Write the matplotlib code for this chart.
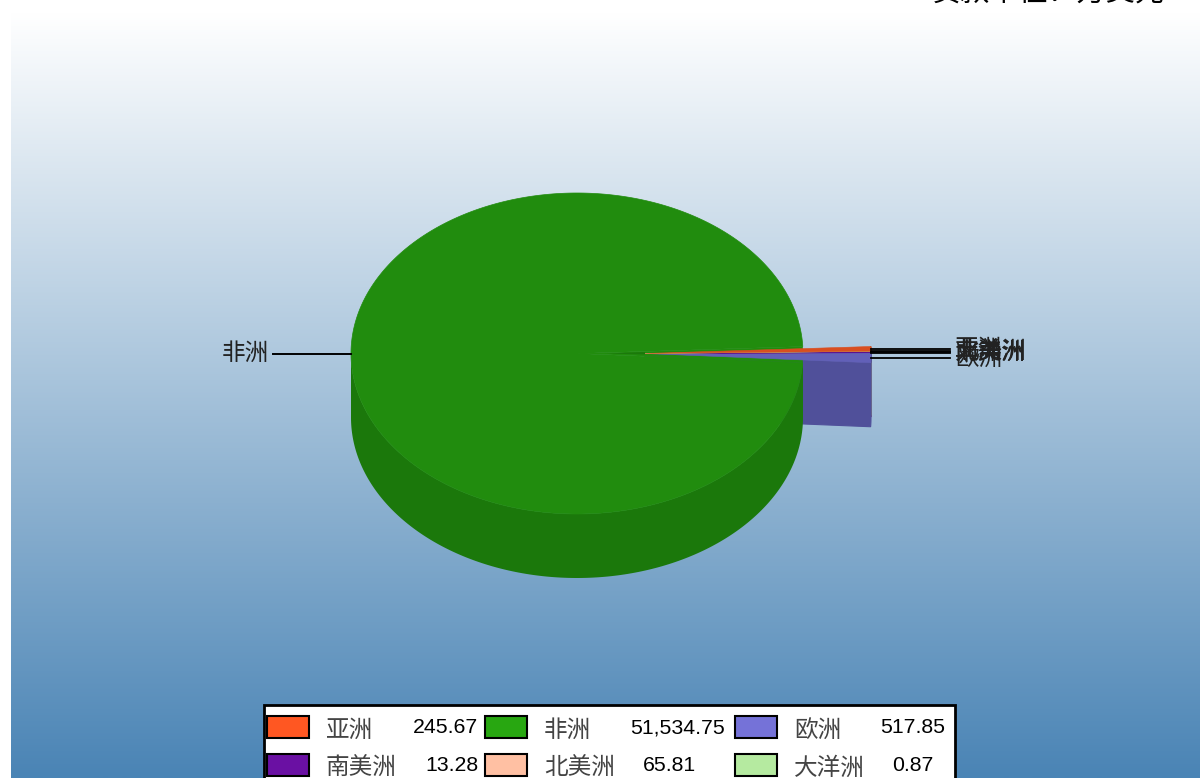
import numpy as np
import matplotlib
matplotlib.use("Agg")
import matplotlib.pyplot as plt
from matplotlib.colors import LinearSegmentedColormap
from matplotlib.patches import Polygon, Rectangle

continents = ["亚洲", "非洲", "欧洲", "南美洲", "北美洲", "大洋洲"]
amounts = [245.67, 51534.75, 517.85, 13.28, 65.81, 0.87]
amount_labels = ["245.67", "51,534.75", "517.85", "13.28", "65.81", "0.87"]
top_colors = ["#D94E20", "#218C0E", "#6260B8", "#5C1090", "#D8A080", "#A0D090"]
side_colors = ["#C04A1E", "#1B780B", "#50509A", "#4C0C78", "#C08C70", "#8CB87C"]
legend_colors = ["#FF5722", "#28A711", "#7572D8", "#6A10A3", "#FFC0A3", "#B5EAA0"]
unit_title = "贷款单位：万美元"

CJK = ["Noto Sans CJK SC", "DejaVu Sans"]
plt.rcParams["font.family"] = CJK

fig = plt.figure(figsize=(12, 7.78), dpi=100, facecolor="white")
ax = fig.add_axes([0, 0, 1, 1])
ax.axis("off")

cmap = LinearSegmentedColormap.from_list("bg", ["#FFFFFF", "#4A84B5"])
ax.imshow(np.linspace(0, 1, 256).reshape(-1, 1), cmap=cmap, aspect="auto",
          extent=(11, 1200, 778, 12), zorder=0)
ax.set_xlim(0, 1200)
ax.set_ylim(778, 0)

cx, cy, rx, ry, depth, explode = 577, 353.5, 226, 160.5, 64, 68

spans = np.array(amounts) / sum(amounts) * 360
idx_big = int(np.argmax(amounts))
# Largest slice is centred on the left; going counter-clockwise, slices follow the data order.
starts = {}
a = 180 - spans[idx_big] / 2 - 0.4
for k in range(len(amounts)):
    i = (idx_big + k) % len(amounts)
    starts[i] = a
    a += spans[i]


def arc(a0, a1, ox=0, oy=0, n=200):
    t = np.radians(np.linspace(a0, a1, n))
    return np.column_stack([cx + ox + rx * np.cos(t), cy + oy - ry * np.sin(t)])


# sides of exploded slices (behind the big slice)
for i in [0, 4, 3, 5, 2]:
    a0, a1 = starts[i], starts[i] + spans[i]
    rim = arc(a0, a1, ox=explode)
    apex = [cx + explode, cy]
    pts = np.vstack([[apex], rim, rim[::-1] + [0, depth], [[apex[0], apex[1] + depth]]])
    ax.add_patch(Polygon(pts, closed=True, fc=side_colors[i], ec=side_colors[i], lw=0.8, zorder=2))

# big slice: wall and top
a0, a1 = starts[idx_big], starts[idx_big] + spans[idx_big]
front = arc(180, 360)
wall = np.vstack([front, front[::-1] + [0, depth]])
ax.add_patch(Polygon(wall, closed=True, fc=side_colors[idx_big], ec="none", zorder=3))
top = np.vstack([[[cx, cy]], arc(a0, a1, n=600)])
ax.add_patch(Polygon(top, closed=True, fc=top_colors[idx_big], ec=top_colors[idx_big], lw=0.5, zorder=4))
ax.add_patch(Polygon(np.vstack([[[cx, cy]], arc(a1, a0 + 360, n=30)]), closed=True,
                     fc=top_colors[idx_big], ec="none", zorder=4))

# dark streak near the centre
ax.add_patch(Polygon([[605, cy], [645, cy - 1.5], [645, cy + 1]], closed=True,
                     fc=side_colors[idx_big], ec="none", zorder=5))

# tops of exploded slices
for i in [2, 4, 3, 5, 0]:
    a0, a1 = starts[i], starts[i] + spans[i]
    pts = np.vstack([[[cx + explode, cy]], arc(a0, a1, ox=explode)])
    ax.add_patch(Polygon(pts, closed=True, fc=top_colors[i], ec=top_colors[i], lw=0.4, zorder=6))

# leader lines + labels
label_kw = dict(fontsize=17, color="#222222", va="center", family=CJK, zorder=8)
for i in range(len(amounts)):
    mid = starts[i] + spans[i] / 2
    if i == idx_big:
        ax.plot([cx - rx, 273], [cy, cy], color="black", lw=1.4, zorder=7)
        ax.text(269, cy - 0.5, continents[i], ha="right", **label_kw)
    else:
        p = arc(mid, mid, ox=explode, n=2)[0]
        ax.plot([p[0], 950], [p[1], p[1]], color="black", lw=1.3, zorder=7)
        ax.text(955, p[1] + 1, continents[i], ha="left", **label_kw)

# unit title clipped by the top of the canvas
ax.text(1165, 2, unit_title, ha="right", va="baseline", fontsize=21, color="black", family=CJK, zorder=8)

# legend
ax.add_patch(Rectangle((263.5, 704.5), 691, 90, fc="white", ec="black", lw=2, zorder=9))
swatch_x = [267, 485, 735]
name_x = [326, 544, 794]
value_center = [445.5, 678, 913]
value_shift = [[0, 0, 0], [6.5, -9, 0]]
row_y = [727, 765]
for i in range(len(amounts)):
    row, col = i // 3, i % 3
    y = row_y[row]
    ax.add_patch(Rectangle((swatch_x[col], y - 11), 42, 22, fc=legend_colors[i], ec="black", lw=1.5, zorder=10))
    ax.text(name_x[col], y + 3, continents[i], fontsize=17, color="#444444", ha="left", va="center",
            family=CJK, zorder=10)
    ax.text(value_center[col] + value_shift[row][col], y + 0.5, amount_labels[i], fontsize=15.3, color="black",
            ha="center", va="center", family="Liberation Sans", zorder=10)

fig.savefig("out.png", dpi=100)
